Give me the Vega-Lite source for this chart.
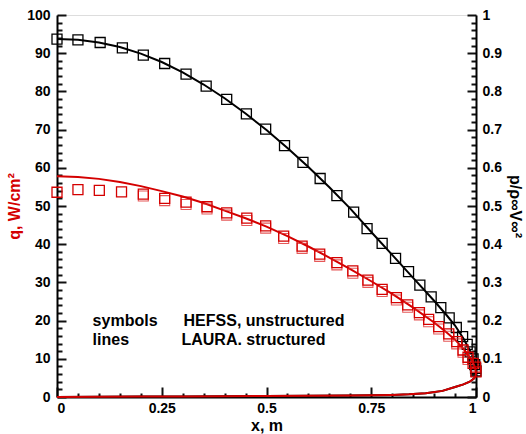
{
  "$schema": "https://vega.github.io/schema/vega-lite/v6.json",
  "width": 419,
  "height": 382,
  "autosize": "none",
  "padding": {"left": 57, "top": 15, "right": 50, "bottom": 37},
  "data": {"values": [
    {"g": "qline", "s": 0, "x": 0, "q": 57.8}, {"g": "qline", "s": 1, "x": 0.05, "q": 57.6}, {"g": "qline", "s": 2, "x": 0.1, "q": 57.1}, {"g": "qline", "s": 3, "x": 0.15, "q": 56.3},
    {"g": "qline", "s": 4, "x": 0.2, "q": 55.2}, {"g": "qline", "s": 5, "x": 0.25, "q": 53.9}, {"g": "qline", "s": 6, "x": 0.3, "q": 52.5}, {"g": "qline", "s": 7, "x": 0.35, "q": 50.8},
    {"g": "qline", "s": 8, "x": 0.4, "q": 48.8}, {"g": "qline", "s": 9, "x": 0.45, "q": 46.8}, {"g": "qline", "s": 10, "x": 0.5, "q": 44.6}, {"g": "qline", "s": 11, "x": 0.55, "q": 42.1},
    {"g": "qline", "s": 12, "x": 0.6, "q": 39.4}, {"g": "qline", "s": 13, "x": 0.65, "q": 36.5}, {"g": "qline", "s": 14, "x": 0.7, "q": 33.5}, {"g": "qline", "s": 15, "x": 0.75, "q": 30.3},
    {"g": "qline", "s": 16, "x": 0.8, "q": 27.0}, {"g": "qline", "s": 17, "x": 0.85, "q": 23.4}, {"g": "qline", "s": 18, "x": 0.9, "q": 19.5}, {"g": "qline", "s": 19, "x": 0.93, "q": 16.9},
    {"g": "qline", "s": 20, "x": 0.95, "q": 15.0}, {"g": "qline", "s": 21, "x": 0.97, "q": 12.6}, {"g": "qline", "s": 22, "x": 0.98, "q": 11.2}, {"g": "qline", "s": 23, "x": 0.99, "q": 9.6},
    {"g": "qline", "s": 24, "x": 0.996, "q": 8.2}, {"g": "qline", "s": 25, "x": 0.999, "q": 7.0}, {"g": "qline", "s": 26, "x": 1.0, "q": 6.2}, {"g": "qline", "s": 27, "x": 0.999, "q": 5.5},
    {"g": "qline", "s": 28, "x": 0.995, "q": 4.8}, {"g": "qline", "s": 29, "x": 0.985, "q": 4.0}, {"g": "qline", "s": 30, "x": 0.97, "q": 3.3}, {"g": "qline", "s": 31, "x": 0.95, "q": 2.6},
    {"g": "qline", "s": 32, "x": 0.92, "q": 1.6}, {"g": "qline", "s": 33, "x": 0.88, "q": 1.0}, {"g": "qline", "s": 34, "x": 0.84, "q": 0.7}, {"g": "qline", "s": 35, "x": 0.8, "q": 0.55},
    {"g": "qline", "s": 36, "x": 0.7, "q": 0.4}, {"g": "qline", "s": 37, "x": 0.6, "q": 0.33}, {"g": "qline", "s": 38, "x": 0.5, "q": 0.27}, {"g": "qline", "s": 39, "x": 0.4, "q": 0.21},
    {"g": "qline", "s": 40, "x": 0.3, "q": 0.16}, {"g": "qline", "s": 41, "x": 0.2, "q": 0.11}, {"g": "qline", "s": 42, "x": 0.1, "q": 0.07}, {"g": "qline", "s": 43, "x": 0, "q": 0.02},
    {"g": "pline", "s": 0, "x": 0, "p": 0.937}, {"g": "pline", "s": 1, "x": 0.05, "p": 0.935}, {"g": "pline", "s": 2, "x": 0.1, "p": 0.928}, {"g": "pline", "s": 3, "x": 0.15, "p": 0.916},
    {"g": "pline", "s": 4, "x": 0.2, "p": 0.899}, {"g": "pline", "s": 5, "x": 0.25, "p": 0.877}, {"g": "pline", "s": 6, "x": 0.3, "p": 0.85}, {"g": "pline", "s": 7, "x": 0.35, "p": 0.818},
    {"g": "pline", "s": 8, "x": 0.4, "p": 0.782}, {"g": "pline", "s": 9, "x": 0.45, "p": 0.742}, {"g": "pline", "s": 10, "x": 0.5, "p": 0.699}, {"g": "pline", "s": 11, "x": 0.55, "p": 0.652},
    {"g": "pline", "s": 12, "x": 0.6, "p": 0.602}, {"g": "pline", "s": 13, "x": 0.65, "p": 0.549}, {"g": "pline", "s": 14, "x": 0.7, "p": 0.493}, {"g": "pline", "s": 15, "x": 0.75, "p": 0.432},
    {"g": "pline", "s": 16, "x": 0.8, "p": 0.372}, {"g": "pline", "s": 17, "x": 0.85, "p": 0.312}, {"g": "pline", "s": 18, "x": 0.9, "p": 0.252}, {"g": "pline", "s": 19, "x": 0.93, "p": 0.214},
    {"g": "pline", "s": 20, "x": 0.95, "p": 0.187}, {"g": "pline", "s": 21, "x": 0.97, "p": 0.153}, {"g": "pline", "s": 22, "x": 0.98, "p": 0.133}, {"g": "pline", "s": 23, "x": 0.99, "p": 0.112},
    {"g": "pline", "s": 24, "x": 0.996, "p": 0.095}, {"g": "pline", "s": 25, "x": 0.999, "p": 0.082}, {"g": "pline", "s": 26, "x": 1.0, "p": 0.07}, {"g": "pline", "s": 27, "x": 0.999, "p": 0.055},
    {"g": "pline", "s": 28, "x": 0.995, "p": 0.048}, {"g": "pline", "s": 29, "x": 0.985, "p": 0.04}, {"g": "pline", "s": 30, "x": 0.97, "p": 0.033}, {"g": "pline", "s": 31, "x": 0.95, "p": 0.026},
    {"g": "pline", "s": 32, "x": 0.92, "p": 0.016}, {"g": "pline", "s": 33, "x": 0.88, "p": 0.01}, {"g": "pline", "s": 34, "x": 0.84, "p": 0.007}, {"g": "pline", "s": 35, "x": 0.8, "p": 0.0055},
    {"g": "pline", "s": 36, "x": 0.7, "p": 0.004}, {"g": "pline", "s": 37, "x": 0.6, "p": 0.0033}, {"g": "pline", "s": 38, "x": 0.5, "p": 0.0027}, {"g": "pline", "s": 39, "x": 0.4, "p": 0.0021},
    {"g": "pline", "s": 40, "x": 0.3, "p": 0.0016}, {"g": "pline", "s": 41, "x": 0.2, "p": 0.0011}, {"g": "pline", "s": 42, "x": 0.1, "p": 0.0007}, {"g": "pline", "s": 43, "x": 0, "p": 0.0002},
    {"g": "psym", "x": 0, "p": 0.937}, {"g": "psym", "x": 0.05, "p": 0.935}, {"g": "psym", "x": 0.103, "p": 0.928}, {"g": "psym", "x": 0.156, "p": 0.914}, {"g": "psym", "x": 0.206, "p": 0.895},
    {"g": "psym", "x": 0.257, "p": 0.873}, {"g": "psym", "x": 0.308, "p": 0.845}, {"g": "psym", "x": 0.356, "p": 0.814}, {"g": "psym", "x": 0.405, "p": 0.779}, {"g": "psym", "x": 0.452, "p": 0.741},
    {"g": "psym", "x": 0.498, "p": 0.701}, {"g": "psym", "x": 0.543, "p": 0.658}, {"g": "psym", "x": 0.587, "p": 0.614}, {"g": "psym", "x": 0.628, "p": 0.572}, {"g": "psym", "x": 0.668, "p": 0.527},
    {"g": "psym", "x": 0.708, "p": 0.484}, {"g": "psym", "x": 0.74, "p": 0.441}, {"g": "psym", "x": 0.776, "p": 0.402}, {"g": "psym", "x": 0.808, "p": 0.363}, {"g": "psym", "x": 0.839, "p": 0.328},
    {"g": "psym", "x": 0.866, "p": 0.293}, {"g": "psym", "x": 0.893, "p": 0.262}, {"g": "psym", "x": 0.916, "p": 0.234}, {"g": "psym", "x": 0.936, "p": 0.207}, {"g": "psym", "x": 0.953, "p": 0.182},
    {"g": "psym", "x": 0.968, "p": 0.158}, {"g": "psym", "x": 0.979, "p": 0.138}, {"g": "psym", "x": 0.986, "p": 0.118}, {"g": "psym", "x": 0.993, "p": 0.1}, {"g": "psym", "x": 0.997, "p": 0.085},
    {"g": "psym", "x": 0.999, "p": 0.075}, {"g": "psym", "x": 1.0, "p": 0.068},
    {"g": "qsym", "x": 0, "q": 53.6}, {"g": "qsym", "x": 0.05, "q": 54.3}, {"g": "qsym", "x": 0.101, "q": 54.1}, {"g": "qsym", "x": 0.154, "q": 53.7}, {"g": "qsym", "x": 0.206, "q": 53.1},
    {"g": "qsym", "x": 0.257, "q": 52.0}, {"g": "qsym", "x": 0.308, "q": 51.0}, {"g": "qsym", "x": 0.358, "q": 49.8}, {"g": "qsym", "x": 0.405, "q": 48.2}, {"g": "qsym", "x": 0.453, "q": 46.8},
    {"g": "qsym", "x": 0.498, "q": 44.8}, {"g": "qsym", "x": 0.541, "q": 42.1}, {"g": "qsym", "x": 0.585, "q": 39.5}, {"g": "qsym", "x": 0.627, "q": 37.4}, {"g": "qsym", "x": 0.668, "q": 35.2},
    {"g": "qsym", "x": 0.706, "q": 33.0}, {"g": "qsym", "x": 0.742, "q": 30.6}, {"g": "qsym", "x": 0.776, "q": 28.2}, {"g": "qsym", "x": 0.81, "q": 26.0}, {"g": "qsym", "x": 0.837, "q": 24.1},
    {"g": "qsym", "x": 0.865, "q": 22.1}, {"g": "qsym", "x": 0.887, "q": 20.3}, {"g": "qsym", "x": 0.911, "q": 18.4}, {"g": "qsym", "x": 0.935, "q": 16.5}, {"g": "qsym", "x": 0.954, "q": 14.5},
    {"g": "qsym", "x": 0.969, "q": 12.3}, {"g": "qsym", "x": 0.981, "q": 10.4}, {"g": "qsym", "x": 0.993, "q": 8.8}, {"g": "qsym", "x": 0.999, "q": 7.8}, {"g": "qsym", "x": 1.0, "q": 6.6},
    {"g": "qsym2", "x": 0.206, "q": 52.6}, {"g": "qsym2", "x": 0.257, "q": 51.4}, {"g": "qsym2", "x": 0.308, "q": 50.4}, {"g": "qsym2", "x": 0.358, "q": 49.2}, {"g": "qsym2", "x": 0.405, "q": 47.6},
    {"g": "qsym2", "x": 0.453, "q": 46.2}, {"g": "qsym2", "x": 0.498, "q": 44.2}, {"g": "qsym2", "x": 0.541, "q": 41.5}, {"g": "qsym2", "x": 0.585, "q": 38.9}, {"g": "qsym2", "x": 0.627, "q": 36.8},
    {"g": "qsym2", "x": 0.668, "q": 34.6}, {"g": "qsym2", "x": 0.706, "q": 32.4}, {"g": "qsym2", "x": 0.742, "q": 30.0}, {"g": "qsym2", "x": 0.776, "q": 27.6}, {"g": "qsym2", "x": 0.81, "q": 25.4},
    {"g": "qsym2", "x": 0.837, "q": 23.5}, {"g": "qsym2", "x": 0.865, "q": 21.5}, {"g": "qsym2", "x": 0.887, "q": 19.7}, {"g": "qsym2", "x": 0.911, "q": 17.8}, {"g": "qsym2", "x": 0.935, "q": 15.9},
    {"g": "qsym2", "x": 0.954, "q": 13.9}, {"g": "qsym2", "x": 0.969, "q": 11.7}, {"g": "qsym2", "x": 0.981, "q": 9.8},
    {"g": "note", "x": 0.085, "q": 18.6, "label": "symbols"},
    {"g": "note", "x": 0.302, "q": 18.6, "label": "HEFSS, unstructured"},
    {"g": "note", "x": 0.085, "q": 13.6, "label": "lines"},
    {"g": "note", "x": 0.297, "q": 13.6, "label": "LAURA. structured"}
  ]},
  "layer": [
    {
      "transform": [{"filter": "datum.g === 'qline'"}],
      "mark": {"type": "point", "opacity": 0},
      "encoding": {
        "x": {
          "field": "x", "type": "quantitative",
          "scale": {"domain": [0, 1], "nice": false},
          "axis": {
            "orient": "bottom", "offset": -4, "tickSize": 4, "labels": false, "domain": false, "grid": false, "title": null,
            "tickColor": "#111", "tickWidth": 2,
            "values": [0.05, 0.1, 0.15, 0.2, 0.3, 0.35, 0.4, 0.45, 0.55, 0.6, 0.65, 0.7, 0.8, 0.85, 0.9, 0.95]
          }
        },
        "y": {
          "field": "q", "type": "quantitative",
          "scale": {"domain": [0, 100], "nice": false},
          "axis": {
            "orient": "left", "offset": -5, "tickSize": 5, "labels": false, "domain": false, "grid": false, "title": null,
            "tickColor": "#111", "tickWidth": 2,
            "values": [2, 4, 6, 8, 12, 14, 16, 18, 22, 24, 26, 28, 32, 34, 36, 38, 42, 44, 46, 48, 52, 54, 56, 58, 62, 64, 66, 68, 72, 74, 76, 78, 82, 84, 86, 88, 92, 94, 96, 98]
          }
        }
      }
    },
    {
      "transform": [{"filter": "datum.g === 'pline'"}],
      "mark": {"type": "point", "opacity": 0},
      "encoding": {
        "x": {"field": "x", "type": "quantitative", "axis": null},
        "y": {
          "field": "p", "type": "quantitative",
          "scale": {"domain": [0, 1], "nice": false},
          "axis": {
            "orient": "right", "offset": -5, "tickSize": 5, "labels": false, "domain": false, "grid": false, "title": null,
            "tickColor": "#111", "tickWidth": 2,
            "values": [0.02, 0.04, 0.06, 0.08, 0.12, 0.14, 0.16, 0.18, 0.22, 0.24, 0.26, 0.28, 0.32, 0.34, 0.36, 0.38, 0.42, 0.44, 0.46, 0.48, 0.52, 0.54, 0.56, 0.58, 0.62, 0.64, 0.66, 0.68, 0.72, 0.74, 0.76, 0.78, 0.82, 0.84, 0.86, 0.88, 0.92, 0.94, 0.96, 0.98]
          }
        }
      }
    },
    {
      "transform": [{"filter": "datum.g === 'pline'"}],
      "mark": {"type": "line", "color": "black", "strokeWidth": 2, "clip": false},
      "encoding": {
        "x": {
          "field": "x", "type": "quantitative",
          "axis": {
            "orient": "bottom",
            "values": [0, 0.25, 0.5, 0.75, 1],
            "labelExpr": "format(datum.value, '.2~g')",
            "grid": false,
            "tickSize": -10, "tickColor": "#111", "tickWidth": 2,
            "domainColor": "#000", "domainWidth": 2,
            "labelPadding": 14, "labelFontSize": 14, "labelFontWeight": "bold", "labelColor": "#000", "labelFont": "Liberation Sans",
            "title": "x, m", "titleFontSize": 16, "titleFontWeight": "bold", "titleColor": "#000", "titleFont": "Liberation Sans",
            "titlePadding": 2
          }
        },
        "y": {
          "field": "p", "type": "quantitative",
          "scale": {"domain": [0, 1], "nice": false},
          "axis": {
            "orient": "right",
            "values": [0, 0.1, 0.2, 0.3, 0.4, 0.5, 0.6, 0.7, 0.8, 0.9, 1],
            "labelExpr": "format(datum.value, '.1~g')",
            "grid": false,
            "tickSize": -9, "tickColor": "#111", "tickWidth": 2,
            "domainColor": "#000", "domainWidth": 2,
            "labelPadding": 15, "labelFontSize": 14, "labelFontWeight": "bold", "labelColor": "#000", "labelFont": "Liberation Sans",
            "title": "p/ρ∞V∞²", "titleFontSize": 16, "titleFontWeight": "bold", "titleColor": "#000", "titleFont": "Liberation Sans",
            "titlePadding": 5
          }
        },
        "order": {"field": "s", "type": "quantitative"}
      }
    },
    {
      "transform": [{"filter": "datum.g === 'psym'"}],
      "mark": {"type": "point", "shape": "square", "filled": false, "color": "black", "size": 100, "strokeWidth": 1.3, "opacity": 1},
      "encoding": {
        "x": {"field": "x", "type": "quantitative", "axis": null},
        "y": {"field": "p", "type": "quantitative", "scale": {"domain": [0, 1], "nice": false}, "axis": null}
      }
    },
    {
      "transform": [{"filter": "datum.g === 'qline'"}],
      "mark": {"type": "line", "color": "#d40000", "strokeWidth": 2, "clip": false},
      "encoding": {
        "x": {"field": "x", "type": "quantitative", "axis": null},
        "y": {
          "field": "q", "type": "quantitative",
          "scale": {"domain": [0, 100], "nice": false},
          "axis": {
            "orient": "left",
            "values": [0, 10, 20, 30, 40, 50, 60, 70, 80, 90, 100],
            "grid": false,
            "tickSize": -9, "tickColor": "#111", "tickWidth": 2,
            "domainColor": "#000", "domainWidth": 2,
            "labelPadding": 16, "labelFontSize": 14, "labelFontWeight": "bold", "labelColor": "#000", "labelFont": "Liberation Sans",
            "title": "q, W/cm²", "titleFontSize": 16, "titleFontWeight": "bold", "titleColor": "#d40000", "titleFont": "Liberation Sans",
            "titlePadding": 4
          }
        },
        "order": {"field": "s", "type": "quantitative"}
      }
    },
    {
      "transform": [{"filter": "datum.g === 'qsym2'"}],
      "mark": {"type": "point", "shape": "square", "filled": false, "color": "#e03030", "size": 100, "strokeWidth": 1.1, "opacity": 0.8},
      "encoding": {
        "x": {"field": "x", "type": "quantitative", "axis": null},
        "y": {"field": "q", "type": "quantitative", "scale": {"domain": [0, 100], "nice": false}, "axis": null}
      }
    },
    {
      "transform": [{"filter": "datum.g === 'qsym'"}],
      "mark": {"type": "point", "shape": "square", "filled": false, "color": "#d40000", "size": 100, "strokeWidth": 1.3, "opacity": 1},
      "encoding": {
        "x": {"field": "x", "type": "quantitative", "axis": null},
        "y": {"field": "q", "type": "quantitative", "scale": {"domain": [0, 100], "nice": false}, "axis": null}
      }
    },
    {
      "transform": [{"filter": "datum.g === 'note'"}],
      "mark": {"type": "text", "align": "left", "baseline": "alphabetic", "font": "Liberation Sans", "fontSize": 16, "fontWeight": "bold", "color": "black"},
      "encoding": {
        "x": {"field": "x", "type": "quantitative", "axis": null},
        "y": {"field": "q", "type": "quantitative", "scale": {"domain": [0, 100], "nice": false}, "axis": null},
        "text": {"field": "label"}
      }
    }
  ],
  "resolve": {
    "scale": {"y": "independent"},
    "axis": {"y": "independent", "x": "independent"}
  }
}
